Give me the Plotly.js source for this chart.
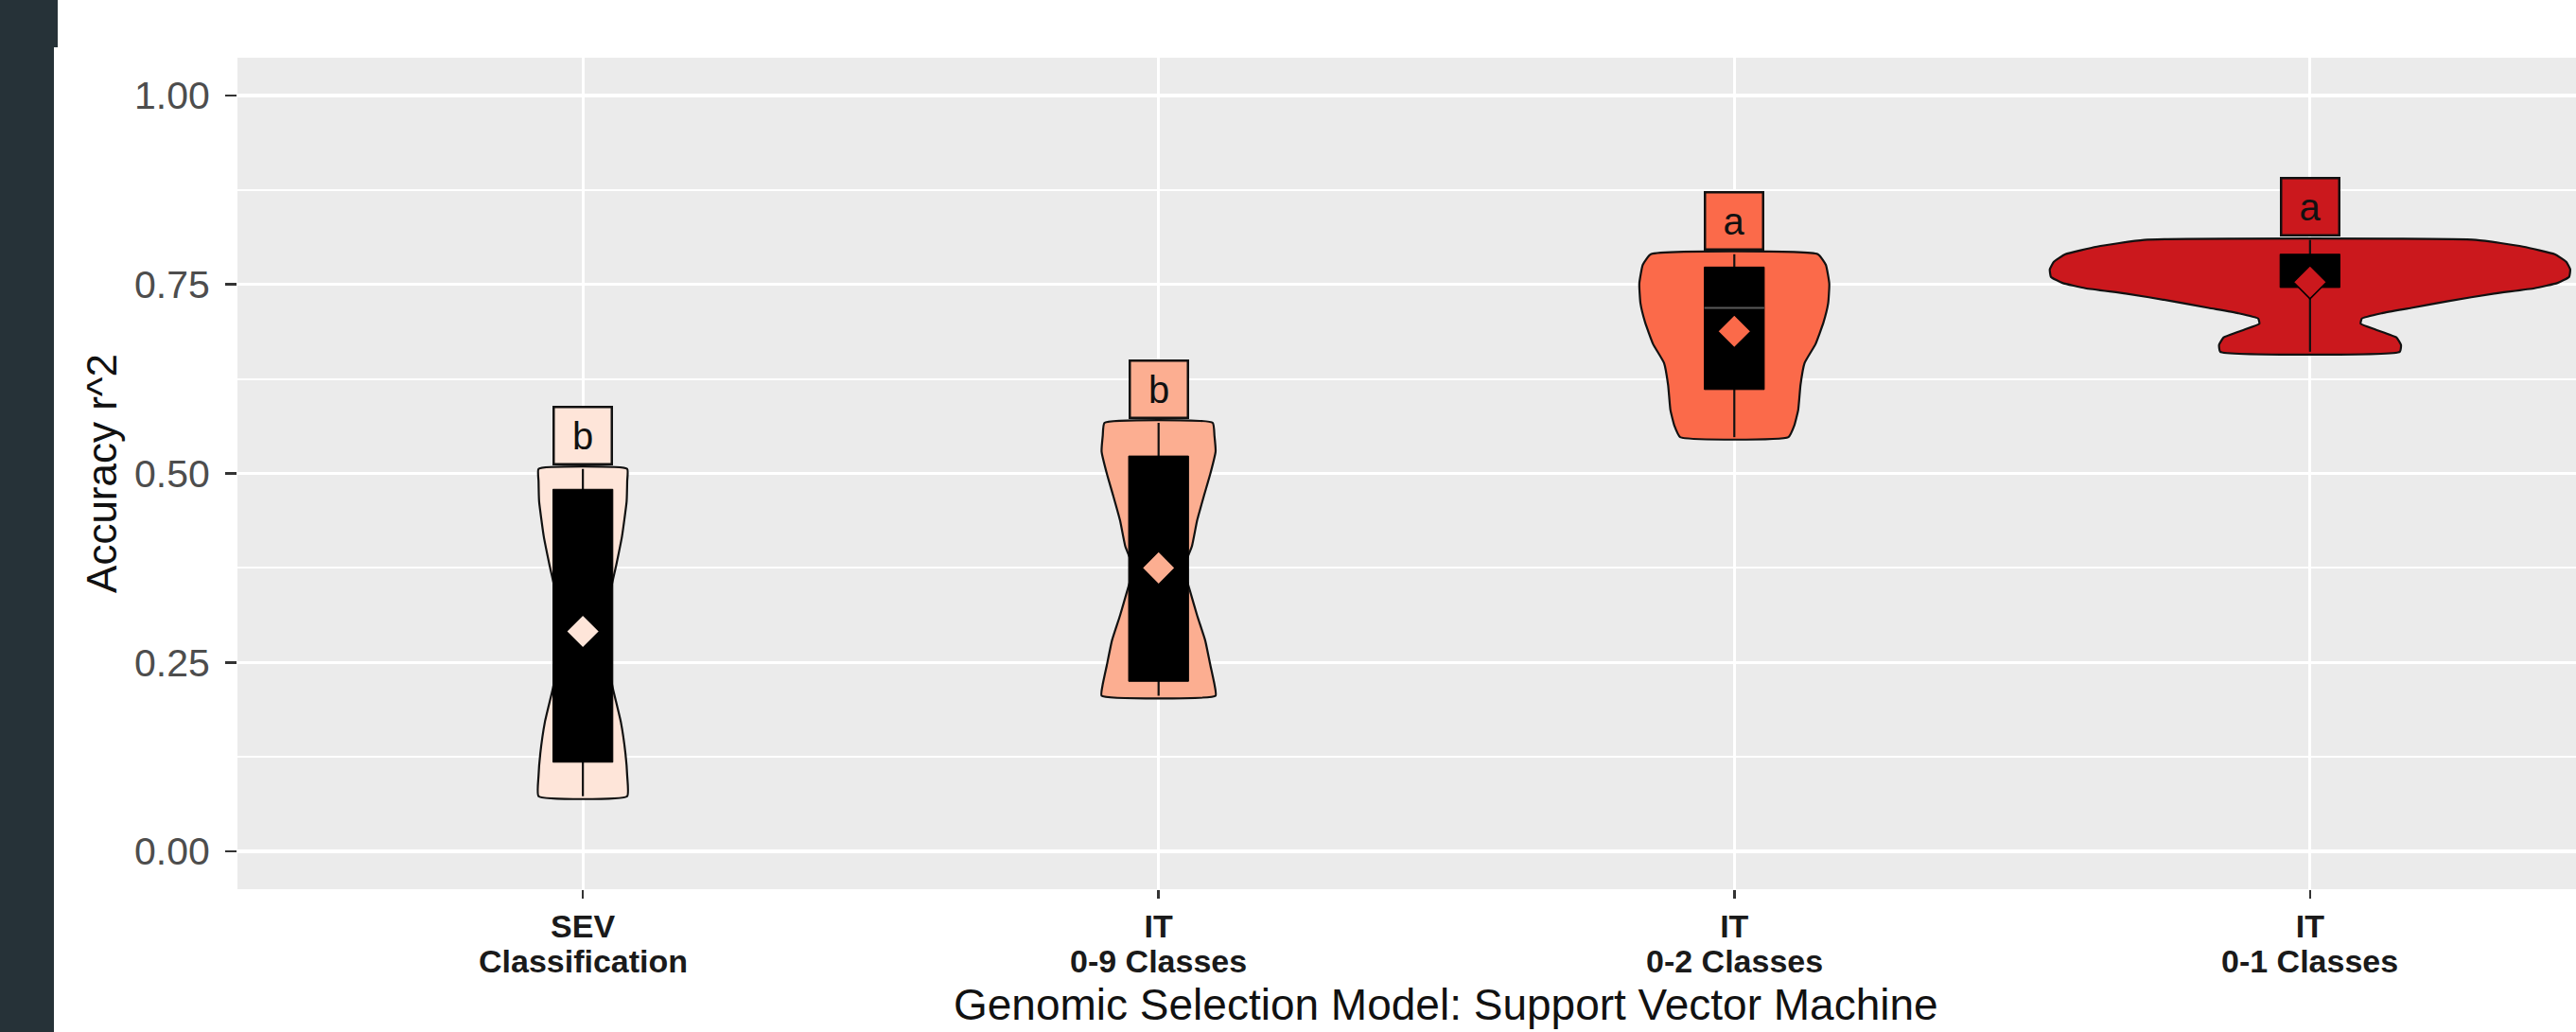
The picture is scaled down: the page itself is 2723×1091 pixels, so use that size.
<!DOCTYPE html>
<html><head><meta charset="utf-8">
<script src="https://cdn.plot.ly/plotly-3.0.1.min.js"></script>
<style>
html,body{margin:0;padding:0;background:#fff;}
#bar1{position:absolute;left:0;top:0;width:57px;height:1091px;background:#263238;}
#bar2{position:absolute;left:0;top:0;width:61px;height:50px;background:#263238;}
#chart{position:absolute;left:0;top:0;width:2723px;height:1091px;}
</style></head><body>
<div id="bar1"></div><div id="bar2"></div>
<div id="chart"></div>
<script>
// ---- data ----
const categories = ['SEV', 'IT', 'IT', 'IT'];
const subLabels = ['Classification', '0-9 Classes', '0-2 Classes', '0-1 Classes'];
const groupLetters = ['b', 'b', 'a', 'a'];
const fillColors = ['#FEE5D9', '#FCAE91', '#FB6A4A', '#CB181D'];

const minVals    = [0.073, 0.206, 0.548, 0.661];
const q1Vals     = [0.118, 0.225, 0.611, 0.746];
const medianVals = [null, null, 0.719, null];   // only visible for the 0-2 group
const q3Vals     = [0.479, 0.523, 0.773, 0.790];
const maxVals    = [0.506, 0.567, 0.790, 0.809];
const meanVals   = [0.291, 0.375, 0.688, 0.753];

// violin density profiles: y level and half-width (category units)
const sevY = [0.506, 0.490, 0.463, 0.417, 0.379, 0.337, 0.291, 0.250, 0.216, 0.171, 0.129, 0.100, 0.073];
const sevW = [0.077, 0.077, 0.076, 0.068, 0.058, 0.046, 0.043, 0.044, 0.052, 0.066, 0.074, 0.077, 0.077];
const it9Y = [0.567, 0.550, 0.529, 0.500, 0.471, 0.438, 0.404, 0.375, 0.346, 0.312, 0.279, 0.246, 0.221, 0.206];
const it9W = [0.094, 0.097, 0.099, 0.090, 0.079, 0.067, 0.058, 0.044, 0.054, 0.067, 0.081, 0.090, 0.097, 0.099];
const it2Y = [0.790, 0.776, 0.751, 0.725, 0.700, 0.671, 0.646, 0.617, 0.584, 0.563, 0.548];
const it2W = [0.145, 0.159, 0.165, 0.163, 0.155, 0.141, 0.122, 0.115, 0.111, 0.104, 0.094];
const it1Y = [0.809, 0.800, 0.790, 0.780, 0.770, 0.760, 0.752, 0.745, 0.738, 0.728, 0.719, 0.712, 0.705, 0.698, 0.690, 0.680, 0.670, 0.661];
const it1W = [0.288, 0.370, 0.425, 0.445, 0.452, 0.450, 0.430, 0.390, 0.320, 0.240, 0.176, 0.125, 0.090, 0.088, 0.115, 0.150, 0.158, 0.156];

const violinY = [sevY, it9Y, it2Y, it1Y];
const violinW = [sevW, it9W, it2W, it1W];
const yTicks = [0, 0.25, 0.5, 0.75, 1.0];
const yMinorTicks = [0.125, 0.375, 0.625, 0.875];

// ---- build traces ----
const FONT = 'Liberation Sans, Arial, sans-serif';
const boxHalf = 0.052;
const traces = [];
categories.forEach((c, i) => {
  const cx = i + 1;
  const ys = violinY[i], ws = violinW[i];
  const px = [], py = [];
  ys.forEach((y, k) => { px.push(cx + ws[k]); py.push(y); });
  for (let k = ys.length - 1; k >= 0; k--) { px.push(cx - ws[k]); py.push(ys[k]); }
  px.push(px[0]); py.push(py[0]);
  traces.push({type: 'scatter', mode: 'lines', x: px, y: py, fill: 'toself',
    fillcolor: fillColors[i], line: {color: '#111', width: 2.2, shape: 'spline', smoothing: 0.4},
    hoverinfo: 'skip', showlegend: false});
  traces.push({type: 'scatter', mode: 'lines', x: [cx, cx], y: [minVals[i], maxVals[i]],
    line: {color: '#111', width: 2.2}, hoverinfo: 'skip', showlegend: false});
  traces.push({type: 'scatter', mode: 'lines',
    x: [cx - boxHalf, cx + boxHalf, cx + boxHalf, cx - boxHalf, cx - boxHalf],
    y: [q1Vals[i], q1Vals[i], q3Vals[i], q3Vals[i], q1Vals[i]],
    fill: 'toself', fillcolor: '#000', line: {color: '#000', width: 1}, hoverinfo: 'skip', showlegend: false});
  if (medianVals[i] !== null) {
    traces.push({type: 'scatter', mode: 'lines', x: [cx - boxHalf, cx + boxHalf], y: [medianVals[i], medianVals[i]],
      line: {color: '#5a5a5a', width: 2}, hoverinfo: 'skip', showlegend: false});
  }
  traces.push({type: 'scatter', mode: 'markers', x: [cx], y: [meanVals[i]],
    marker: {symbol: 'diamond', size: 27, color: fillColors[i], line: {color: '#000', width: 1.5}},
    hoverinfo: 'skip', showlegend: false});
});

const annotations = [];
categories.forEach((c, i) => {
  annotations.push({x: i + 1, y: maxVals[i] + 0.044, xref: 'x', yref: 'y', text: groupLetters[i],
    showarrow: false, font: {family: FONT, size: 40, color: '#111'},
    bgcolor: fillColors[i], bordercolor: '#111', borderwidth: 2.5, borderpad: 0, width: 59, height: 58,
    xanchor: 'center', yanchor: 'middle', valign: 'middle'});
  annotations.push({x: i + 1, y: 0, xref: 'x', yref: 'paper', text: '<b>' + subLabels[i] + '</b>',
    showarrow: false, yanchor: 'middle', yshift: -76,
    font: {family: FONT, size: 34, color: '#1a1a1a'}});
});
annotations.push({x: 2.5, y: 0, xref: 'x', yref: 'paper', text: 'Genomic Selection Model: Support Vector Machine',
  showarrow: false, yanchor: 'middle', yshift: -122,
  font: {family: FONT, size: 46, color: '#111'}});

const layout = {
  width: 2723, height: 1091,
  margin: {l: 251, r: 0, t: 61, b: 151},
  paper_bgcolor: 'rgba(0,0,0,0)',
  plot_bgcolor: '#EBEBEB',
  showlegend: false,
  font: {family: FONT},
  xaxis: {
    range: [0.4, 4.462], tickvals: [1, 2, 3, 4], ticktext: categories.map(s => '<b>' + s + '</b>'),
    showgrid: true, gridcolor: '#FFFFFF', gridwidth: 3, zeroline: false, showline: false,
    ticks: 'outside', ticklen: 9, tickwidth: 2.5, tickcolor: '#333',
    tickfont: {size: 34, color: '#1a1a1a'}, fixedrange: true
  },
  yaxis: {
    range: [-0.05, 1.05], tickvals: yTicks, tickformat: '.2f',
    showgrid: true, gridcolor: '#FFFFFF', gridwidth: 3.5, zeroline: false, showline: false,
    ticks: 'outside', ticklen: 12, tickwidth: 2.5, tickcolor: '#333',
    tickfont: {size: 41, color: '#4D4D4D'}, ticklabelstandoff: 8,
    minor: {tickvals: yMinorTicks, showgrid: true, gridcolor: '#FFFFFF', gridwidth: 1.8, ticks: ''},
    title: {text: 'Accuracy r^2', font: {size: 44, color: '#111'}, standoff: 4}
  },
  annotations: annotations
};

Plotly.newPlot('chart', traces, layout, {displayModeBar: false, staticPlot: true});
</script>
</body></html>
